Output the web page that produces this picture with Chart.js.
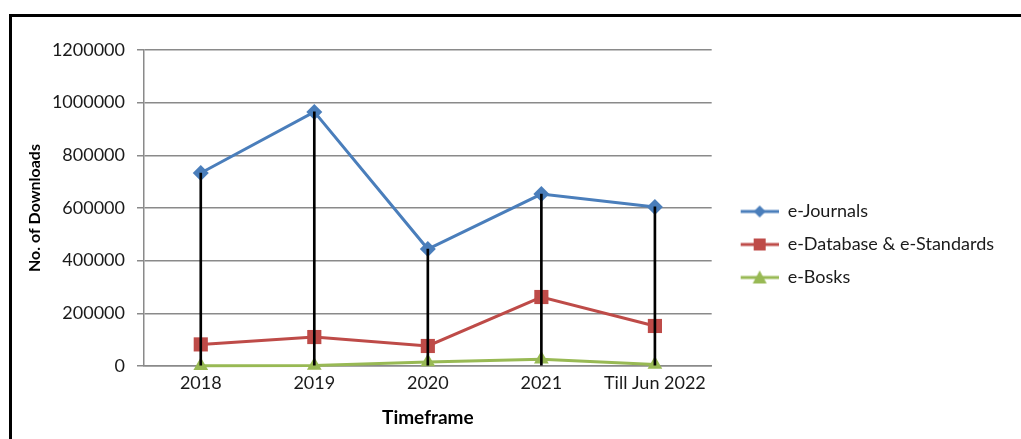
<!DOCTYPE html>
<html>
	<head>
		<meta charset="utf-8">
		<script src="https://cdn.jsdelivr.net/npm/chart.js@4/dist/chart.umd.min.js"></script>
		<title>No. of Downloads</title>
		<style>
			body {margin: 0; background: #fff; overflow: hidden;}
			#frame {position: absolute; left: 9px; top: 14px; width: 1030px; height: 460px; border-left: 3px solid #000; border-top: 3px solid #000;}
			#myChart {position: absolute; left: 12px; top: 17px;}
		</style>
	</head>
	<body>
		<div id="frame"></div>
		<canvas id="myChart" width="1000" height="422"></canvas>
		<script>
			var labels = ['2018', '2019', '2020', '2021', 'Till Jun 2022'];
			var journals = [733000, 965000, 444000, 653000, 604000];
			var databases = [82000, 110000, 76000, 262000, 152000];
			var books = [1000, 2000, 15000, 26000, 6000];
			var yTicks = [0, 200000, 400000, 600000, 800000, 1000000, 1200000];

			var blue = '#4A7EBB';
			var red = '#BE4B48';
			var green = '#98B954';
			var font = 'Lato, "Open Sans", sans-serif';

			// drop lines go from the highest point down to the axis
			var drops = labels.map(function (l, i) {
				return Math.max(journals[i], databases[i], books[i]);
			});

			// legend samples: short line with the marker on it
			function sample(color, shape) {
				var c = document.createElement('canvas');
				c.width = 52;
				c.height = 18;
				var g = c.getContext('2d');
				g.strokeStyle = color;
				g.fillStyle = color;
				g.lineWidth = 3;
				g.beginPath();
				g.moveTo(14, 9);
				g.lineTo(52, 9);
				g.stroke();
				g.beginPath();
				if (shape == 'diamond') {
					g.moveTo(33, 3); g.lineTo(39, 9); g.lineTo(33, 15); g.lineTo(27, 9);
				} else if (shape == 'square') {
					g.rect(27, 3, 12, 12);
				} else {
					g.moveTo(33, 2); g.lineTo(40, 15); g.lineTo(26, 15);
				}
				g.closePath();
				g.fill();
				return c;
			}
			var samples = [sample(blue, 'diamond'), sample(red, 'square'), sample(green, 'triangle')];

			var chart = new Chart(document.getElementById('myChart'), {
				type: 'line',
				data: {
					labels: labels,
					datasets: [{
						label: 'e-Journals',
						data: journals,
						borderColor: blue,
						backgroundColor: blue,
						borderWidth: 3,
						pointStyle: 'rectRot',
						pointRadius: 8,
						pointBorderWidth: 0,
						clip: false,
						order: 1
					}, {
						label: 'e-Database & e-Standards',
						data: databases,
						borderColor: red,
						backgroundColor: red,
						borderWidth: 3,
						pointStyle: 'rect',
						pointRadius: 10,
						pointBorderWidth: 0,
						clip: false,
						order: 2
					}, {
						label: 'e-Bosks',
						data: books,
						borderColor: green,
						backgroundColor: green,
						borderWidth: 3,
						pointStyle: 'triangle',
						pointRadius: 8.5,
						pointBorderWidth: 0,
						clip: false,
						order: 3
					}, {
						type: 'bar',
						label: 'drop',
						data: drops,
						backgroundColor: '#000000',
						barThickness: 2,
						order: 0
					}]
				},
				options: {
					responsive: false,
					animation: false,
					layout: {padding: {top: 33, left: 0, right: 8, bottom: 0}},
					plugins: {
						tooltip: {enabled: false},
						legend: {
							position: 'right',
							align: 'center',
							maxWidth: 400,
							labels: {
								usePointStyle: true,
								pointStyleWidth: 52,
								padding: 15,
								color: '#1a1a1a',
								font: {family: font, size: 18},
								filter: function (item) { return item.datasetIndex < 3; },
								generateLabels: function (c) {
									var items = Chart.defaults.plugins.legend.labels.generateLabels(c);
									items.forEach(function (it) {
										if (it.datasetIndex < 3) it.pointStyle = samples[it.datasetIndex];
									});
									return items;
								}
							}
						}
					},
					scales: {
						x: {
							offset: true,
							grid: {display: false, drawTicks: false},
							border: {color: '#8a8a8a', width: 1.5},
							ticks: {color: '#1a1a1a', padding: 6, font: {family: font, size: 18}, maxRotation: 0},
							title: {display: true, text: 'Timeframe', color: '#000', padding: {top: 4, bottom: 10}, font: {family: font, size: 19, weight: 'bold'}},
							afterFit: function (s) { s.height = 73; }
						},
						y: {
							min: 0,
							max: 1200000,
							afterBuildTicks: function (s) { s.ticks = yTicks.map(function (v) { return {value: v}; }); },
							grid: {color: '#8a8a8a', lineWidth: 1.5, tickLength: 7},
							border: {color: '#8a8a8a', width: 1.5},
							ticks: {color: '#1a1a1a', padding: 12, font: {family: font, size: 18}, callback: function (v) { return String(v); }},
							title: {display: true, text: 'No. of Downloads', color: '#000', padding: {top: 13, bottom: 0}, font: {family: font, size: 16, weight: 'bold'}},
							afterFit: function (s) { s.width = 132; }
						}
					}
				}
			});
		</script>
	</body>
</html>
